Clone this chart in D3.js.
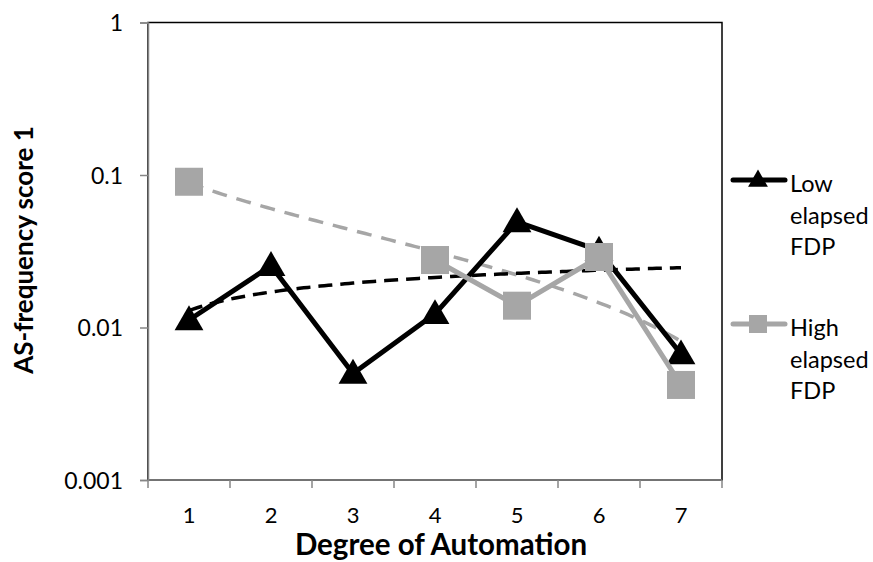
<!DOCTYPE html>
<html><head><meta charset="utf-8">
<script src="https://cdn.jsdelivr.net/npm/d3@7"></script>
<style>body{margin:0;background:#fff}svg{display:block}text{font-family:Lato,"Liberation Sans",sans-serif}</style>
</head><body><svg id="c" width="873" height="562"></svg>
<script>
const categories = [1,2,3,4,5,6,7];
const lowElapsed = [0.0112, 0.0254, 0.0050, 0.0123, 0.0493, 0.032, 0.0067];
const highElapsed = [0.0903, null, null, 0.0277, 0.0139, 0.029, 0.0042];
const yTicks = [0.001, 0.01, 0.1, 1];
const yTickLabels = ["0.001","0.01","0.1","1"];
const seriesNames = [["Low","elapsed","FDP"],["High","elapsed","FDP"]];

const svg = d3.select("#c");
const L = 148, R = 722, T = 22.5, B = 480;
const x = d3.scaleBand().domain(categories).range([L, R]);
const xc = d => x(d) + x.bandwidth()/2;
const xLin = d3.scaleLinear().domain([0.5, 7.5]).range([L, R]);
const y = d3.scaleLog().domain([0.001, 1]).range([B, T]);

// plot border (top/right black)
svg.append("rect").attr("x", L).attr("y", T).attr("width", R-L).attr("height", B-T)
  .attr("fill","none").attr("stroke","#000").attr("stroke-width",1.5);

// x axis
const gx = svg.append("g").attr("transform", `translate(0,${B})`)
  .call(d3.axisBottom(x).tickSize(0).tickFormat(d => d));
gx.select(".domain").remove();
gx.selectAll("text").attr("dy", null).attr("y", 43).style("font-size","22px").attr("fill","#000")
  .style("font-family","Lato");
const bounds = [...categories.map(c => x(c)), R];
svg.append("g").selectAll("line").data(bounds).join("line")
  .attr("x1", d=>d).attr("x2", d=>d).attr("y1", B).attr("y2", B+8)
  .attr("stroke","#868686").attr("stroke-width",1.5);
svg.append("line").attr("x1", L).attr("x2", R).attr("y1", B).attr("y2", B)
  .attr("stroke","#868686").attr("stroke-width",1.5);

// y axis
const gy = svg.append("g").attr("transform", `translate(${L},0)`)
  .call(d3.axisLeft(y).tickValues(yTicks).tickSize(8).tickFormat((d,i) => yTickLabels[i]));
gy.select(".domain").attr("stroke","#868686").attr("stroke-width",1.5);
gy.selectAll(".tick line").attr("stroke","#868686").attr("stroke-width",1.5);
gy.selectAll("text").style("font-size","23px").style("font-family","Lato").attr("fill","#000")
  .attr("x", -25).attr("dy","0.36em");

// titles
svg.append("text").attr("x", 441).attr("y", 555).attr("text-anchor","middle")
  .style("font-size","29.5px").attr("font-weight","bold").text("Degree of Automation");
svg.append("text").attr("transform","translate(33,250) rotate(-90)").attr("text-anchor","middle")
  .style("font-size","26px").attr("font-weight","bold").text("AS-frequency score 1");

// logarithmic trendline fit from the data
function logTrend(vals){
  const pts = vals.map((v,i)=>[Math.log(categories[i]), v]).filter(p=>p[1]!=null);
  const mx = d3.mean(pts,p=>p[0]), my = d3.mean(pts,p=>p[1]);
  const b = d3.sum(pts,p=>(p[0]-mx)*(p[1]-my))/d3.sum(pts,p=>(p[0]-mx)**2);
  const a = my - b*mx;
  return d3.range(1, 7.001, 0.05).map(t => [t, a + b*Math.log(t)]);
}
const trendLine = d3.line().x(d => xLin(d[0])).y(d => y(d[1]));
svg.append("path").attr("d", trendLine(logTrend(highElapsed))).attr("fill","none")
  .attr("stroke","#A6A6A6").attr("stroke-width",3.5).attr("stroke-dasharray","15,10");
svg.append("path").attr("d", trendLine(logTrend(lowElapsed))).attr("fill","none")
  .attr("stroke","#000").attr("stroke-width",3.5).attr("stroke-dasharray","14,8");

// series lines
const line = d3.line().defined(d => d[1]!=null).x(d => xc(d[0])).y(d => y(d[1]));
svg.append("path").attr("d", line(categories.map((c,i)=>[c, lowElapsed[i]]))).attr("fill","none")
  .attr("stroke","#000").attr("stroke-width",5).attr("stroke-linejoin","round");
const tri = d3.symbol().type(d3.symbolTriangle).size(360);
svg.append("g").selectAll("path").data(categories.map((c,i)=>[c, lowElapsed[i]])).join("path")
  .attr("d", tri).attr("transform", d => `translate(${xc(d[0])},${y(d[1])+2})`).attr("fill","#000");

const highPts = categories.map((c,i)=>[c, highElapsed[i]]);
svg.append("path").attr("d", line(highPts)).attr("fill","none")
  .attr("stroke","#A6A6A6").attr("stroke-width",5).attr("stroke-linejoin","round");
svg.append("g").selectAll("rect").data(highPts.filter(d=>d[1]!=null)).join("rect")
  .attr("x", d => xc(d[0]) - 14).attr("y", d => y(d[1]) - 14).attr("width",28).attr("height",28)
  .attr("fill","#A6A6A6");

// legend
const leg = svg.append("g");
const legY = [180, 324];
[["#000","tri"],["#A6A6A6","sq"]].forEach((s,i)=>{
  const cy = legY[i];
  leg.append("line").attr("x1",733).attr("x2",785).attr("y1",cy).attr("y2",cy)
    .attr("stroke",s[0]).attr("stroke-width",5).attr("stroke-linecap","round");
  if (s[1]==="tri") leg.append("path").attr("d", d3.symbol().type(d3.symbolTriangle).size(170)())
    .attr("transform",`translate(758,${cy+1})`).attr("fill",s[0]);
  else leg.append("rect").attr("x",749).attr("y",cy-9).attr("width",18).attr("height",18).attr("fill",s[0]);
  seriesNames[i].forEach((t,j)=>{
    leg.append("text").attr("x",790).attr("y",cy+12+j*31.5).style("font-size","23.5px").text(t);
  });
});
</script></body></html>
